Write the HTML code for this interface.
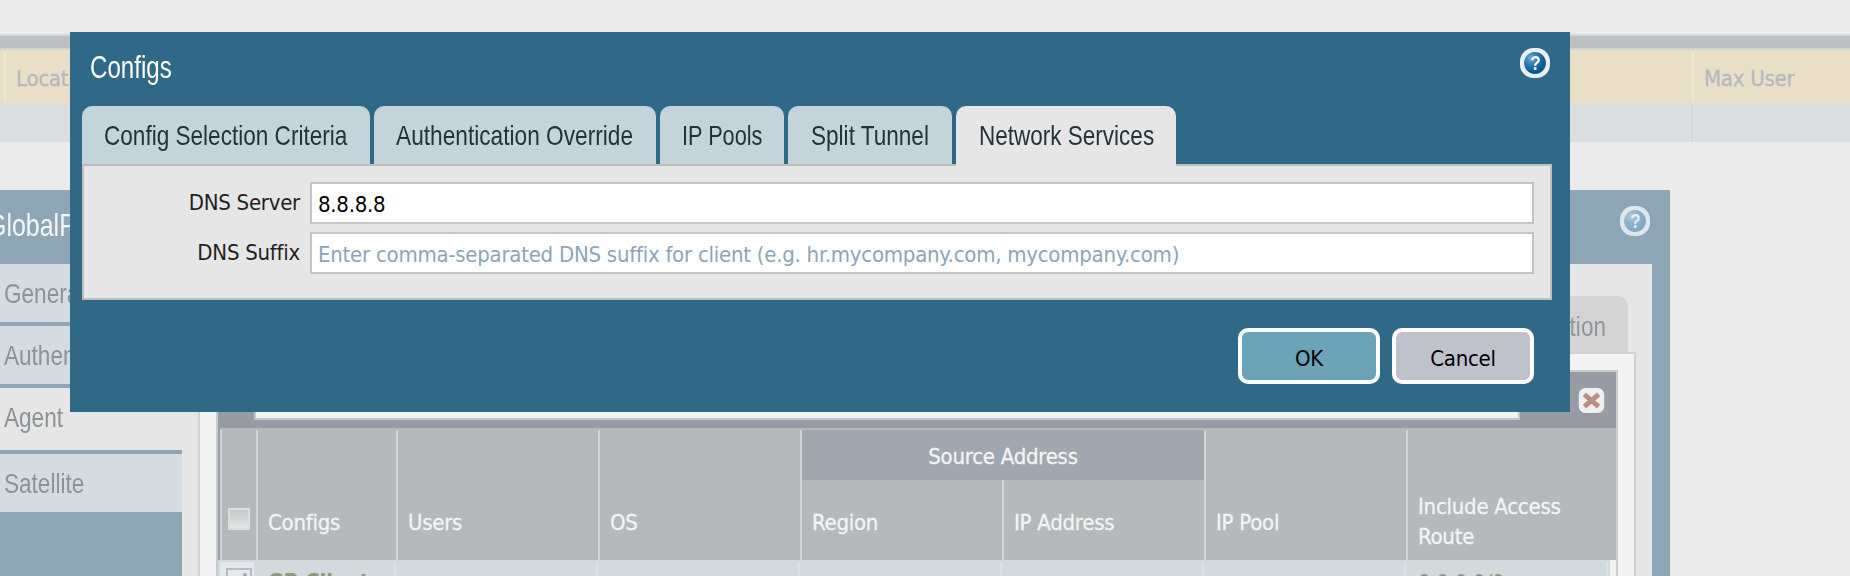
<!DOCTYPE html>
<html lang="en">
<head>
<meta charset="utf-8">
<title>Configs</title>
<style>
*{box-sizing:border-box;margin:0;padding:0}
html,body{width:1850px;height:576px;overflow:hidden;background:#ebebeb}
body{position:relative;font-family:"DejaVu Sans Condensed","Liberation Sans",sans-serif;font-size:22px;letter-spacing:-.25px;color:#222}
.a{position:absolute}
.nw{white-space:nowrap}
.narrow{font-family:"Liberation Sans",sans-serif;transform-origin:0 0;white-space:nowrap;display:inline-block;letter-spacing:0}
/* background grid */
#bgbar{left:0;top:34px;width:1850px;height:16px;background:#bcc0c3;border-top:2px solid #d6d8da;border-bottom:2px solid #cfd2d4}
#bghead{left:0;top:50px;width:1850px;height:54px;background:#e9dfc7}
#bgrow{left:0;top:104px;width:1850px;height:38px;background:#dadedf}
.bgsep{width:2px;top:52px;height:50px;background:#eee8da}
.bgtxt{color:#b3b9c0;top:66px;line-height:26px;-webkit-text-stroke:.3px #b3b9c0}
/* GP dialog behind */
#gp{left:-40px;top:190px;width:1710px;height:420px;background:#8fa6b7}
#gpbody{left:0;top:264px;width:1652px;height:330px;background:#e6e6e6}
.stab{left:0;width:182px;background:#d5dcdf;color:#8c9297;font-size:28px}
.sline{left:0;width:182px;height:4px;background:#8fa6b7}
.ght{color:#f3f4f4;line-height:26px;-webkit-text-stroke:.3px #f3f4f4}
.gsep{top:430px;width:2px;height:130px;background:#d2d5d6}
.rsep{top:562px;width:2px;height:16px;background:#dbe1e4}
/* dialog */
#dlg{left:70px;top:32px;width:1500px;height:380px;background:#306987}
.tab{top:106px;height:60px;background:#c5d4d8;border-radius:10px 10px 0 0;color:#22333a;font-size:28px}
.tab.act{background:#e6e6e6;height:60px}
#panel{left:82px;top:164px;width:1470px;height:136px;background:#e6e6e6;border:2px solid #bebebe}
.inp{left:310px;width:1224px;height:42px;background:#fff;border:2px solid #c4c4c4}
.lbl{color:#1f1f1f;line-height:26px}
.btn{top:328px;width:142px;height:56px;border:4px solid #fff;border-radius:10px;color:#000;text-align:center;line-height:50px;padding-top:2px}
</style>
</head>
<body>
<!-- background table -->
<div class="a" id="bgbar"></div>
<div class="a" id="bghead"></div>
<div class="a" id="bgrow"></div>
<div class="a bgsep" style="left:4px"></div>
<div class="a bgsep" style="left:1692px"></div>
<div class="a" style="left:1691px;top:104px;width:2px;height:38px;background:#d3d8da"></div>
<div class="a nw bgtxt" style="left:16px">Location</div>
<div class="a nw bgtxt" style="left:1704px">Max User</div>

<!-- GlobalProtect dialog (behind) -->
<div class="a" id="gp"></div>
<div class="a narrow" style="left:-13.4px;top:205.4px;font-size:32px;line-height:40px;color:#f4f6f8;transform:scaleX(.78)">GlobalProtect Gateway Configuration</div>
<svg class="a" style="left:1617px;top:203px" width="36" height="36" viewBox="0 0 36 36">
  <defs>
    <radialGradient id="hg2" cx="32%" cy="28%" r="80%"><stop offset="0" stop-color="#b4cbdb"/><stop offset=".4" stop-color="#93b3ca"/><stop offset="1" stop-color="#7fa3be"/></radialGradient>
  </defs>
  <rect x="3" y="3" width="30" height="30" rx="13.5" fill="#dfe7ee" filter="url(#hb1)"/>
  <circle cx="18" cy="18" r="10.9" fill="url(#hg2)" filter="url(#hb1)"/>
  <text transform="translate(18.3,25.4) scale(.84,1)" text-anchor="middle" font-family="Liberation Sans, sans-serif" font-weight="bold" font-size="20.5" fill="#e6edf2" filter="url(#hb1)">?</text>
</svg>
<div class="a" id="gpbody"></div>
<div class="a stab" style="top:264px;height:58px"><span class="narrow" style="margin:14.3px 0 0 4px;line-height:32px;transform:scaleX(.806)">General</span></div>
<div class="a sline" style="top:322px"></div>
<div class="a stab" style="top:326px;height:58px"><span class="narrow" style="margin:14.3px 0 0 4px;line-height:32px;transform:scaleX(.806)">Authentication</span></div>
<div class="a sline" style="top:384px"></div>
<div class="a stab" style="top:388px;height:62px;background:#e6e6e6"><span class="narrow" style="margin:14.3px 0 0 4px;line-height:32px;transform:scaleX(.806)">Agent</span></div>
<div class="a sline" style="top:450px"></div>
<div class="a stab" style="top:454px;height:58px"><span class="narrow" style="margin:14.3px 0 0 4px;line-height:32px;transform:scaleX(.806)">Satellite</span></div>
<div class="a" style="left:0;top:512px;width:182px;height:70px;background:#8fa6b7"></div>
<!-- right tab of inner tab strip -->
<div class="a" style="left:1400px;top:296px;width:228px;height:58px;background:#d4d4d4;border-radius:10px 10px 0 0"></div>
<div class="a narrow" style="left:1463px;top:310.5px;font-size:28px;line-height:32px;color:#90969a;transform:scaleX(.806)">Customization</div>
<!-- inner panel -->
<div class="a" style="left:198px;top:352px;width:1438px;height:240px;background:#f2f2f2;border:2px solid #d2d2d2"></div>
<!-- grid -->
<div class="a" style="left:216px;top:370px;width:1402px;height:220px;background:#979ba3;border:2px solid #c9cbcc"></div>
<div class="a" style="left:254px;top:380px;width:1266px;height:40px;background:#f2f2f2;border:2px solid #c3c5c7"></div>
<svg class="a" style="left:1574.8px;top:383.8px" width="32" height="32" viewBox="0 0 32 32">
  <rect x="3.8" y="4" width="25.4" height="25" rx="6.5" fill="#f1f0f0" filter="url(#hb1)"/>
  <path d="M9.4 10.4 L23.6 22.6 M23.6 10.4 L9.4 22.6" stroke="#bd8c82" stroke-width="4.9" stroke-linecap="butt" filter="url(#hb1)"/>
</svg>
<div class="a" id="ghead" style="left:220px;top:428px;width:1396px;height:132px;background:#b5b9bc"></div>
<div class="a" style="left:802px;top:430px;width:402px;height:50px;background:#a1a7ae"></div>
<div class="a nw ght" style="left:802px;top:443.5px;width:402px;text-align:center">Source Address</div>
<div class="a gsep" style="left:220px"></div>
<div class="a gsep" style="left:256px"></div>
<div class="a gsep" style="left:396px"></div>
<div class="a gsep" style="left:598px"></div>
<div class="a gsep" style="left:800px"></div>
<div class="a gsep" style="left:1002px;top:480px;height:80px"></div>
<div class="a gsep" style="left:1204px"></div>
<div class="a gsep" style="left:1406px"></div>
<div class="a" style="left:228px;top:508px;width:22px;height:22px;border:2px solid #dcdddd;background:linear-gradient(180deg,#c6c8ca,#e4e5e5)"></div>
<div class="a nw ght" style="left:268px;top:509.5px">Configs</div>
<div class="a nw ght" style="left:408px;top:509.5px">Users</div>
<div class="a nw ght" style="left:610px;top:509.5px">OS</div>
<div class="a nw ght" style="left:812px;top:509.5px">Region</div>
<div class="a nw ght" style="left:1014px;top:509.5px">IP Address</div>
<div class="a nw ght" style="left:1216px;top:509.5px">IP Pool</div>
<div class="a ght" style="left:1418px;top:492px;width:180px;line-height:30px">Include Access Route</div>
<!-- first row -->
<div class="a" style="left:218px;top:560px;width:1392px;height:20px;background:#d3dadd"></div>
<div class="a" style="left:220px;top:562px;width:34px;height:20px;background:#e3e8ea"></div>
<div class="a rsep" style="left:394px"></div>
<div class="a rsep" style="left:596px"></div>
<div class="a rsep" style="left:798px"></div>
<div class="a rsep" style="left:1000px"></div>
<div class="a rsep" style="left:1202px"></div>
<div class="a rsep" style="left:1404px"></div>
<div class="a" style="left:1610px;top:560px;width:6px;height:20px;background:#f0f1f1"></div>
<div class="a" style="left:1606px;top:562px;width:2px;height:20px;background:#dde2e8"></div>
<div class="a" style="left:226px;top:568px;width:26px;height:20px;border:2px solid #b9bcbd;background:#e6e8ec"></div>
<div class="a" style="left:243px;top:573px;width:4px;height:6px;background:#9aa4d6;border-radius:2px 2px 0 0"></div>
<div class="a nw" style="left:267.5px;top:569px;font-weight:bold;color:#8b9a7d">GP-Client</div>
<div class="a nw" style="left:1418px;top:569.5px;color:#8b9a7d">0.0.0.0/0</div>

<!-- Configs dialog -->
<div class="a" id="dlg"></div>
<div class="a narrow" style="left:90px;top:47.3px;font-size:32px;line-height:40px;color:#fff;transform:scaleX(.753)">Configs</div>
<svg class="a" style="left:1517px;top:45px" width="36" height="36" viewBox="0 0 36 36">
  <defs>
    <radialGradient id="hg1" cx="32%" cy="28%" r="80%"><stop offset="0" stop-color="#78b0d6"/><stop offset=".35" stop-color="#2f7fb4"/><stop offset=".75" stop-color="#0c5d92"/><stop offset="1" stop-color="#0b5384"/></radialGradient>
    <filter id="hb1" x="-20%" y="-20%" width="140%" height="140%"><feGaussianBlur stdDeviation=".7"/></filter>
  </defs>
  <rect x="3" y="3" width="30" height="30" rx="13.5" fill="#e9eff6" filter="url(#hb1)"/>
  <circle cx="18" cy="18" r="10.9" fill="url(#hg1)" filter="url(#hb1)"/>
  <text transform="translate(18.3,25.4) scale(.84,1)" text-anchor="middle" font-family="Liberation Sans, sans-serif" font-weight="bold" font-size="20.5" fill="#f4f8fb" filter="url(#hb1)">?</text>
</svg>
<div class="a tab" style="left:82px;width:288px"><span class="narrow" style="margin:14.3px 0 0 22px;line-height:32px;transform:scaleX(.806)">Config Selection Criteria</span></div>
<div class="a tab" style="left:374px;width:282px"><span class="narrow" style="margin:14.3px 0 0 22px;line-height:32px;transform:scaleX(.81)">Authentication Override</span></div>
<div class="a tab" style="left:660px;width:124px"><span class="narrow" style="margin:14.3px 0 0 22px;line-height:32px;transform:scaleX(.775)">IP Pools</span></div>
<div class="a tab" style="left:788px;width:164px"><span class="narrow" style="margin:14.3px 0 0 23px;line-height:32px;transform:scaleX(.806)">Split Tunnel</span></div>
<div class="a" id="panel"></div>
<div class="a tab act" style="left:956px;width:220px"><span class="narrow" style="margin:14.3px 0 0 22.5px;line-height:32px;transform:scaleX(.804)">Network Services</span></div>
<div class="a nw lbl" style="left:100px;top:190px;width:200px;text-align:right">DNS Server</div>
<div class="a inp" style="top:182px"></div>
<div class="a nw" style="left:318px;top:192px;color:#000;line-height:26px">8.8.8.8</div>
<div class="a nw lbl" style="left:100px;top:240px;width:200px;text-align:right">DNS Suffix</div>
<div class="a inp" style="top:232px"></div>
<div class="a nw" style="left:318px;top:242px;color:#8da5b7;line-height:26px">Enter comma-separated DNS suffix for client (e.g. hr.mycompany.com, mycompany.com)</div>
<div class="a btn" style="left:1238px;background:#6ba3b8">OK</div>
<div class="a btn" style="left:1392px;background:#bfc2cb">Cancel</div>
</body>
</html>
